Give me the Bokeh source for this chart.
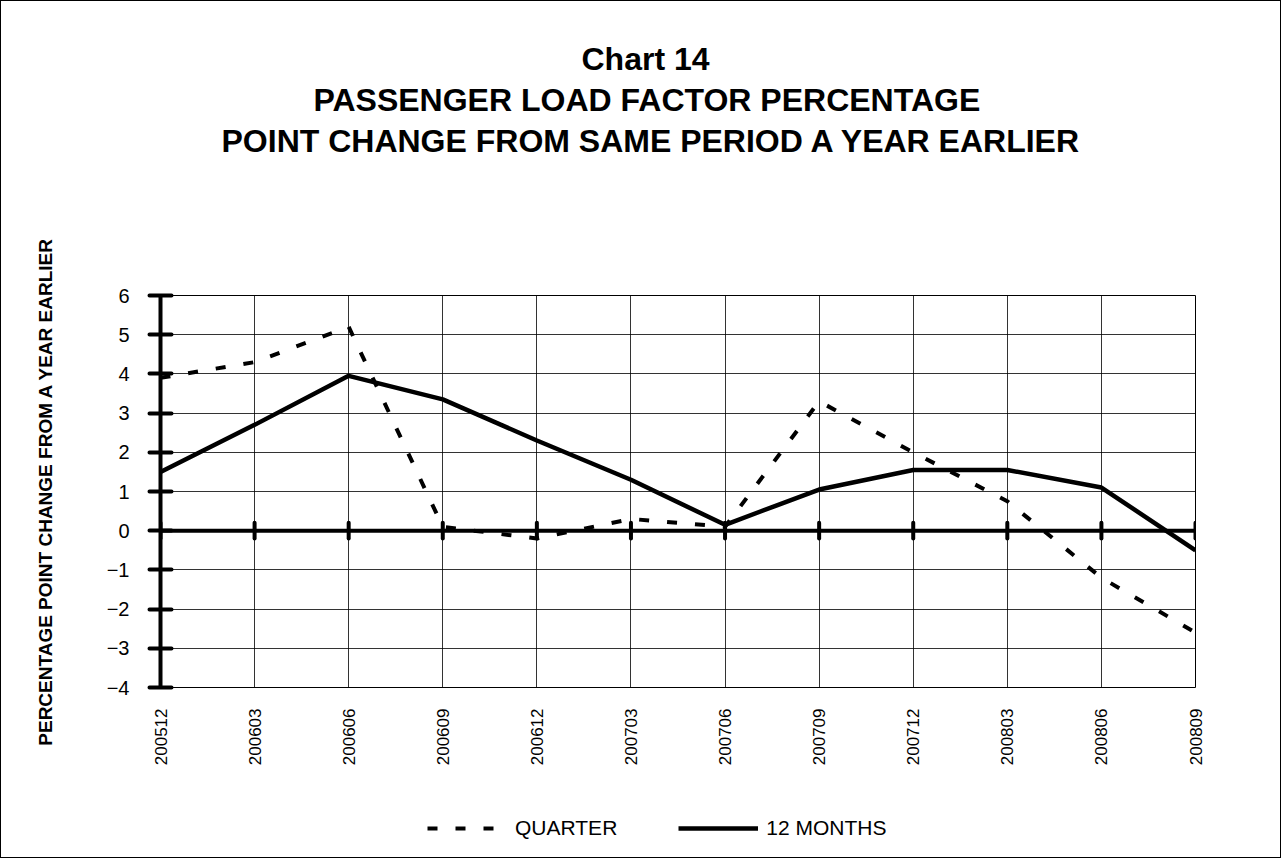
import math
from bokeh.plotting import figure
from bokeh.layouts import column
from bokeh.models import Range1d, FixedTicker, Span, Title, Legend, LegendItem
from bokeh.embed import file_html
from bokeh.resources import INLINE

periods = ["200512", "200603", "200606", "200609", "200612", "200703",
           "200706", "200709", "200712", "200803", "200806", "200809"]
quarter = [3.9, 4.3, 5.2, 0.1, -0.2, 0.3, 0.1, 3.3, 2.0, 0.75, -1.2, -2.6]
twelve_months = [1.5, 2.7, 3.95, 3.35, 2.3, 1.3, 0.15, 1.05, 1.55, 1.55, 1.1, -0.5]
y_ticks = [-4, -3, -2, -1, 0, 1, 2, 3, 4, 5, 6]
series_names = ["QUARTER", "12 MONTHS"]
title_lines = ["Chart 14", "PASSENGER LOAD FACTOR PERCENTAGE",
               "POINT CHANGE FROM SAME PERIOD A YEAR EARLIER"]

idx = list(range(len(periods)))
FONT = "Liberation Sans"

p = figure(width=1279, height=786, output_backend="svg", toolbar_location=None,
           x_range=Range1d(0, len(periods) - 1), y_range=Range1d(-4, 6),
           min_border_left=159, min_border_right=85, min_border_top=294,
           min_border_bottom=100)
p.outline_line_color = "black"
p.outline_line_width = 1

# grid
p.xgrid.ticker = FixedTicker(ticks=idx)
p.ygrid.ticker = FixedTicker(ticks=y_ticks)
for g in (p.xgrid, p.ygrid):
    g.grid_line_color = "black"
    g.grid_line_width = 1
    g.grid_line_alpha = 0.8

# x axis
xa = p.xaxis[0]
xa.ticker = FixedTicker(ticks=idx)
xa.major_label_overrides = {i: s for i, s in zip(idx, periods)}
xa.major_label_orientation = math.pi / 2
xa.axis_line_color = None
xa.major_tick_line_color = None
xa.minor_tick_line_color = None
xa.major_label_standoff = 15
xa.major_label_text_font = FONT
xa.major_label_text_font_size = "17px"
xa.major_label_text_color = "black"

# y axis
ya = p.yaxis[0]
ya.ticker = FixedTicker(ticks=y_ticks)
ya.axis_line_width = 4
ya.axis_line_color = "black"
ya.major_tick_line_width = 4
ya.major_tick_line_cap = "round"
ya.major_tick_in = 11
ya.major_tick_out = 11
ya.minor_tick_line_color = None
ya.major_label_standoff = 20
ya.major_label_text_font = FONT
ya.major_label_text_font_size = "20px"
ya.major_label_text_color = "black"
ya.axis_label = "PERCENTAGE POINT CHANGE FROM A YEAR EARLIER"
ya.axis_label_text_font = FONT
ya.axis_label_text_font_size = "19px"
ya.axis_label_text_font_style = "bold"
ya.axis_label_text_color = "black"
ya.axis_label_standoff = 48

# zero line with ticks
p.add_layout(Span(location=0, dimension="width", line_color="black", line_width=4))
p.segment(x0=idx, y0=[-0.2] * len(idx), x1=idx, y1=[0.2] * len(idx),
          line_color="black", line_width=4, line_cap="round")

# series
Q_STYLE = dict(line_color="black", line_width=4, line_dash="10 18")
M_STYLE = dict(line_color="black", line_width=4.5)
p.line(idx, quarter, **Q_STYLE)
p.line(idx, twelve_months, **M_STYLE)

# titles (first added is nearest the frame); left-aligned with offsets so
# that the block is centred slightly left of the plot frame, as in the original
spacer = Title(text="\u00a0", text_color="white", text_font_size="119px", standoff=0)
title_offsets = [421, 153, 61]
p.add_layout(spacer, "above")
for text, off in reversed(list(zip(title_lines, title_offsets))):
    p.add_layout(Title(text=text, align="left", offset=off,
                       text_font=FONT, text_font_size="32px",
                       text_font_style="bold", text_color="black",
                       standoff=3), "above")

# legend strip below the chart
lg = figure(width=1279, height=70, output_backend="svg", toolbar_location=None,
            x_range=Range1d(100, 101), y_range=Range1d(100, 101),
            min_border_left=0, min_border_right=0, min_border_top=0,
            min_border_bottom=0)
lg.axis.visible = False
lg.grid.visible = False
lg.outline_line_color = None
rq = lg.line(idx, quarter, **Q_STYLE)        # outside the visible range;
rm = lg.line(idx, twelve_months, **M_STYLE)  # only feeds the legend glyphs
legend = Legend(items=[LegendItem(label=series_names[0], renderers=[rq]),
                       LegendItem(label=series_names[1], renderers=[rm])],
                orientation="horizontal", location=(267, 17),
                glyph_width=80, glyph_height=20, label_standoff=8, spacing=61,
                label_text_font=FONT, label_text_font_size="21px",
                label_text_color="black", border_line_color=None,
                background_fill_alpha=0, padding=10, margin=0)
lg.add_layout(legend, "center")

layout = column(p, lg, spacing=0)
layout.styles = {"border": "1px solid black"}

open("out.html", "w").write(file_html(layout, INLINE))
